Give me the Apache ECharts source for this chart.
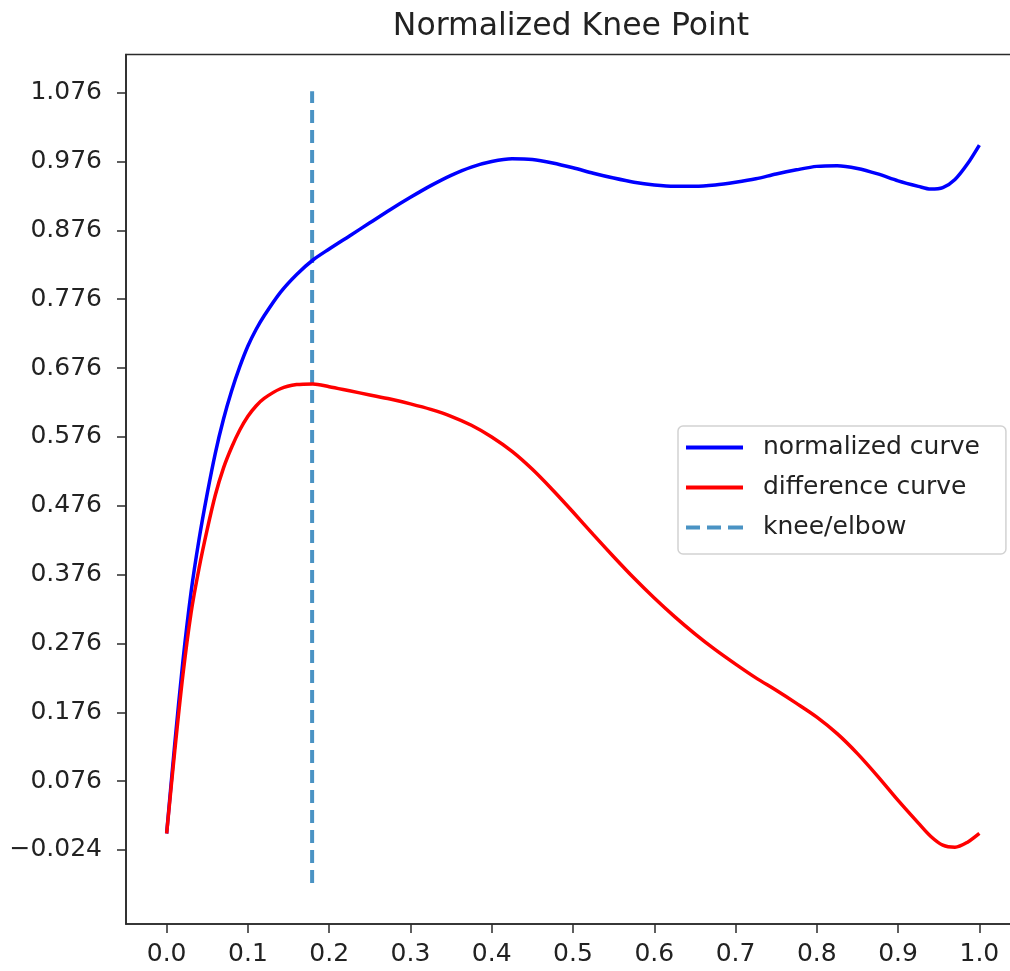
<!DOCTYPE html>
<html>
<head>
<meta charset="utf-8">
<script src="https://cdn.jsdelivr.net/npm/echarts@6/dist/echarts.min.js"></script>
<style>
html,body{margin:0;padding:0;background:#fff;}
#chart{width:1010px;height:971px;}
</style>
</head>
<body>
<div id="chart"></div>
<script>
// ---- data ----
const xValues = [0, 0.01, 0.02, 0.03, 0.04, 0.05, 0.06, 0.07, 0.08, 0.09, 0.10, 0.11, 0.12, 0.14, 0.16, 0.18, 0.20,
  0.225, 0.25, 0.275, 0.30, 0.325, 0.35, 0.375, 0.40, 0.425, 0.45, 0.475, 0.50, 0.525, 0.55, 0.575, 0.60,
  0.625, 0.65, 0.675, 0.70, 0.725, 0.75, 0.775, 0.80, 0.825, 0.85, 0.875, 0.90, 0.925, 0.94, 0.955, 0.97, 0.985, 1.0];
const normalizedCurve = [0.0, 0.13, 0.25, 0.35, 0.428, 0.494, 0.553, 0.602, 0.643, 0.678, 0.708, 0.732, 0.752, 0.786, 0.812, 0.833, 0.849,
  0.868, 0.887, 0.906, 0.924, 0.941, 0.956, 0.968, 0.976, 0.980, 0.979, 0.974, 0.967, 0.959, 0.952, 0.946, 0.942,
  0.940, 0.940, 0.942, 0.946, 0.951, 0.958, 0.964, 0.969, 0.970, 0.966, 0.958, 0.948, 0.940, 0.936, 0.938, 0.950, 0.972, 1.0];
const differenceCurve = [0.0, 0.12, 0.23, 0.32, 0.386, 0.442, 0.492, 0.531, 0.561, 0.586, 0.606, 0.621, 0.632, 0.646, 0.652, 0.653, 0.649,
  0.643, 0.637, 0.631, 0.624, 0.616, 0.606, 0.593, 0.576, 0.555, 0.529, 0.499, 0.467, 0.434, 0.402, 0.371, 0.342,
  0.315, 0.290, 0.267, 0.246, 0.226, 0.208, 0.189, 0.169, 0.145, 0.116, 0.083, 0.048, 0.015, -0.004, -0.017, -0.020, -0.013, 0.0];
const kneeX = 0.179;
const kneeLineRange = [-0.072, 1.078];
const xTickValues = [0, 0.1, 0.2, 0.3, 0.4, 0.5, 0.6, 0.7, 0.8, 0.9, 1.0];
const yTickValues = [-0.024, 0.076, 0.176, 0.276, 0.376, 0.476, 0.576, 0.676, 0.776, 0.876, 0.976, 1.076];
const titleText = 'Normalized Knee Point';
const seriesNames = ['normalized curve', 'difference curve', 'knee/elbow'];

const FONT = 'DejaVu Sans';
const TXT = '#222';
const KNEE_COLOR = '#4a93c4';

const chart = echarts.init(document.getElementById('chart'), null, {renderer: 'canvas'});
const pairs = (xs, ys) => xs.map((x, i) => [x, ys[i]]);

const solidIcon = 'path://M0,0h57v4h-57z';
const dashIcon = 'path://M0,0h14v4h-14zM21,0h14v4h-14zM42,0h15v4h-15z';

chart.setOption({
  animation: false,
  backgroundColor: '#fff',
  title: {
    text: titleText,
    left: 566,
    top: 6,
    textAlign: 'center',
    textStyle: {fontFamily: FONT, fontSize: 31.5, fontWeight: 'normal', color: TXT}
  },
  grid: {
    left: 126, top: 54.5, width: 894, height: 869.5,
    outerBoundsMode: 'none',
    containLabel: false,
    show: true, borderColor: '#2b2b2b', borderWidth: 1.6, backgroundColor: 'transparent'
  },
  legend: {
    orient: 'vertical',
    left: 678, top: 426,
    padding: [9, 26, 14, 8],
    itemWidth: 57, itemHeight: 4, itemGap: 15,
    backgroundColor: 'rgba(255,255,255,0.85)',
    borderColor: '#d2d2d2', borderWidth: 1.5, borderRadius: 5,
    textStyle: {fontFamily: FONT, fontSize: 25, color: TXT, lineHeight: 25, padding: [0, 0, 0, 15]},
    data: [
      {name: seriesNames[0], icon: solidIcon},
      {name: seriesNames[1], icon: solidIcon},
      {name: seriesNames[2], icon: dashIcon}
    ]
  },
  xAxis: {
    type: 'value', min: -0.05, max: 1.05,
    splitLine: {show: false},
    axisLine: {show: true, onZero: false, lineStyle: {color: '#2b2b2b', width: 1.6}},
    axisTick: {show: true, customValues: xTickValues, length: 9, lineStyle: {color: '#2b2b2b', width: 1.5}},
    axisLabel: {customValues: xTickValues, margin: 18, fontFamily: FONT, fontSize: 25, color: TXT,
      formatter: v => v.toFixed(1)}
  },
  yAxis: {
    type: 'value', min: -0.1315, max: 1.1315,
    splitLine: {show: false},
    axisLine: {show: true, onZero: false, lineStyle: {color: '#2b2b2b', width: 1.6}},
    axisTick: {show: true, customValues: yTickValues, length: 9, lineStyle: {color: '#2b2b2b', width: 1.5}},
    axisLabel: {customValues: yTickValues, margin: 24, fontFamily: FONT, fontSize: 25, color: TXT,
      formatter: v => (v < 0 ? '\u2212' : '') + Math.abs(v).toFixed(3)}
  },
  series: [
    {
      name: seriesNames[0], type: 'line', data: pairs(xValues, normalizedCurve),
      symbol: 'none', smooth: 0.3, lineStyle: {color: '#0000ff', width: 3.5}, itemStyle: {color: '#0000ff'}, z: 3
    },
    {
      name: seriesNames[1], type: 'line', data: pairs(xValues, differenceCurve),
      symbol: 'none', smooth: 0.3, lineStyle: {color: '#ff0000', width: 3.5}, itemStyle: {color: '#ff0000'}, z: 3
    },
    {
      name: seriesNames[2], type: 'line', data: kneeLineRange.map(y => [kneeX, y]),
      symbol: 'none', lineStyle: {color: KNEE_COLOR, width: 4, type: [13, 7]}, itemStyle: {color: KNEE_COLOR}, z: 2
    }
  ]
});
</script>
</body>
</html>
